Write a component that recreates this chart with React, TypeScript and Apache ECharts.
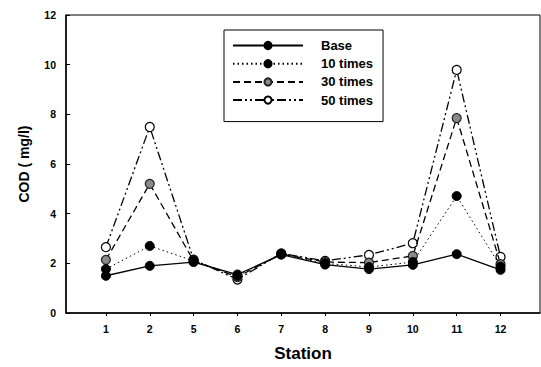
import React, { useEffect, useRef } from "react";
import * as echarts from "echarts";

const stations = ["1", "2", "5", "6", "7", "8", "9", "10", "11", "12"];
const base = [1.5, 1.9, 2.05, 1.55, 2.35, 1.95, 1.77, 1.94, 2.37, 1.74];
const times10 = [1.77, 2.7, 2.1, 1.5, 2.37, 2.0, 1.85, 2.05, 4.71, 1.87];
const times30 = [2.14, 5.2, 2.1, 1.45, 2.38, 2.05, 2.03, 2.3, 7.85, 1.97];
const times50 = [2.65, 7.49, 2.15, 1.35, 2.4, 2.1, 2.34, 2.81, 9.79, 2.26];
const yTicks = [0, 2, 4, 6, 8, 10, 12];

const FONT = "'Liberation Sans', Arial, sans-serif";

export default function App() {
  const ref = useRef<HTMLDivElement>(null);
  useEffect(() => {
    if (!ref.current) return;
    const chart = echarts.init(ref.current, undefined, { renderer: "svg" });
    const idx = stations.map((_, i) => i);
    const mk = (arr: number[]) => arr.map((v, i) => [i, v]);
    const lineBase = { color: "#000", width: 1.3 };
    chart.setOption({
      animation: false,
      backgroundColor: "#fff",
      textStyle: { fontFamily: FONT },
      grid: {
        left: 66,
        top: 15,
        right: 1,
        bottom: 53,
        show: true,
        borderColor: "#000",
        borderWidth: 1,
        backgroundColor: "transparent",
      },
      legend: {
        left: 224,
        top: 30,
        orient: "vertical",
        itemWidth: 70,
        itemHeight: 9,
        itemGap: 5.2,
        borderColor: "#000",
        borderWidth: 1,
        padding: [9, 10, 15, 8],
        textStyle: {
          fontFamily: FONT,
          fontWeight: "bold",
          fontSize: 13,
          color: "#000",
          padding: [0, 0, 0, 13],
          width: 69,
        },
        data: ["Base", "10 times", "30 times", "50 times"],
      },
      xAxis: {
        type: "value",
        min: -0.91,
        max: 9.9,
        name: "Station",
        nameLocation: "middle",
        nameGap: 32,
        nameTextStyle: { fontFamily: FONT, fontWeight: "bold", fontSize: 17, color: "#000" },
        axisLine: { show: true, onZero: false, lineStyle: { color: "#000", width: 1.5 } },
        axisTick: { show: true, customValues: idx, length: 3, lineStyle: { color: "#000" } },
        axisLabel: {
          customValues: idx,
          formatter: (v: number) => stations[Math.round(v)] ?? "",
          fontFamily: FONT,
          fontWeight: "bold",
          fontSize: 10.5,
          color: "#000",
          margin: 10,
        },
        splitLine: { show: false },
      },
      yAxis: {
        type: "value",
        min: yTicks[0],
        max: yTicks[yTicks.length - 1],
        interval: 2,
        name: "COD ( mg/l)",
        nameLocation: "middle",
        nameGap: 35,
        nameTextStyle: { fontFamily: FONT, fontWeight: "bold", fontSize: 14, color: "#000" },
        axisLine: { show: true, onZero: false, lineStyle: { color: "#000", width: 1.5 } },
        axisTick: { show: true, inside: true, length: 4, lineStyle: { color: "#000" } },
        axisLabel: { fontFamily: FONT, fontWeight: "bold", fontSize: 10.5, color: "#000", margin: 10 },
        splitLine: { show: false },
      },
      series: [
        {
          name: "50 times",
          type: "line",
          data: mk(times50),
          symbol: "circle",
          symbolSize: 9,
          lineStyle: { ...lineBase, type: [9, 3, 2, 3, 2, 3] },
          itemStyle: { color: "#fff", borderColor: "#000", borderWidth: 1.2 },
          z: 2,
        },
        {
          name: "30 times",
          type: "line",
          data: mk(times30),
          symbol: "circle",
          symbolSize: 9,
          lineStyle: { ...lineBase, type: [7, 4] },
          itemStyle: { color: "#8a8a8a", borderColor: "#222", borderWidth: 1.2 },
          z: 3,
        },
        {
          name: "10 times",
          type: "line",
          data: mk(times10),
          symbol: "circle",
          symbolSize: 9,
          lineStyle: { ...lineBase, width: 1, type: [1.5, 3] },
          itemStyle: { color: "#000", borderColor: "#000", borderWidth: 1 },
          z: 4,
        },
        {
          name: "Base",
          type: "line",
          data: mk(base),
          symbol: "circle",
          symbolSize: 9,
          lineStyle: { ...lineBase, type: "solid" },
          itemStyle: { color: "#000", borderColor: "#000", borderWidth: 1 },
          z: 5,
        },
      ],
    });
    return () => chart.dispose();
  }, []);
  return <div ref={ref} style={{ width: 541, height: 367, position: "absolute", left: 0, top: 0 }} />;
}
